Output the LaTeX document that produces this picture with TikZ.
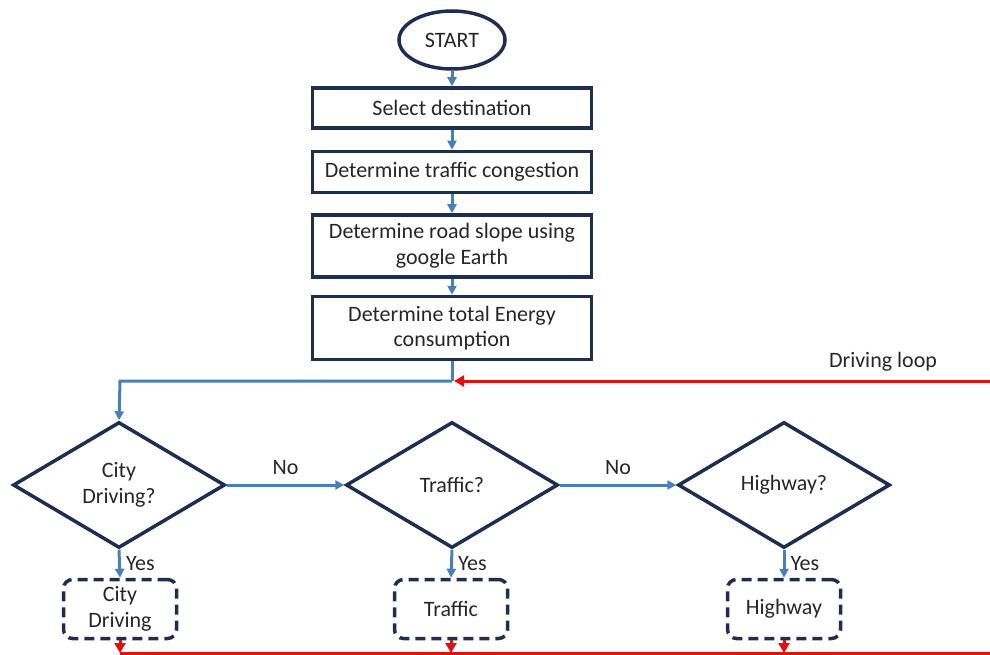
\documentclass[tikz,border=0pt]{standalone}
\usepackage{fontspec}
\setmainfont{Carlito}
\usetikzlibrary{shapes.geometric,arrows.meta}
\definecolor{navy}{HTML}{1F2E4E}
\definecolor{flowblue}{HTML}{4A7EBB}
\definecolor{loopred}{HTML}{E01010}
\tikzset{
  txt/.style={font=\fontsize{22}{25.5}\selectfont, text=black!85},
  procbox/.style={txt, draw=navy, line width=3.5pt, rectangle, minimum width=279pt,
    align=center, inner sep=2pt},
  startshape/.style={txt, draw=navy, line width=3.5pt, ellipse, minimum width=106pt, minimum height=58pt, inner sep=0pt},
  decision/.style={txt, draw=navy, line width=3.5pt, diamond, minimum width=212pt,
    minimum height=126pt, aspect=1.68, inner sep=0pt, align=center},
  modebox/.style={txt, draw=navy, line width=3.5pt, dash pattern=on 10pt off 6pt,
    rounded corners=9pt, minimum width=113pt, minimum height=59pt, align=center, inner sep=1pt},
  flow/.style={flowblue, line width=3pt, -{Triangle[length=9pt,width=9pt]}},
  flowline/.style={flowblue, line width=3pt},
  loop/.style={loopred, line width=3pt},
  looparrow/.style={loopred, line width=3pt, -{Triangle[length=10pt,width=11pt]}},
  lbl/.style={txt, inner sep=1pt}
}
\begin{document}
\begin{tikzpicture}[x=1pt,y=-1pt]
\useasboundingbox (0,0) rectangle (990,655);

% main sequence
\node[startshape] (start) at (452,40) {START};
\node[procbox, minimum height=40pt] (dest) at (452,108) {Select destination};
\node[procbox, minimum height=41pt] (cong) at (452,172) {Determine traffic congestion};
\node[procbox, minimum height=62pt] (slope) at (452,246) {Determine road slope using\\google Earth};
\node[procbox, minimum height=63pt] (energy) at (452,328) {Determine total Energy\\consumption};

\draw[flow] (start) -- (dest);
\draw[flow] (dest) -- (cong);
\draw[flow] (cong) -- (slope);
\draw[flow] (slope) -- (energy);

% decisions
\node[decision] (city) at (119,485) {City\\Driving?};
\node[decision] (traf) at (452,485) {Traffic?};
\node[decision] (high) at (784,485) {Highway?};

% driving modes
\node[modebox] (citybox) at (120,609) {City\\Driving};
\node[modebox] (trafbox) at (451,609) {Traffic};
\node[modebox] (highbox) at (784,609) {Highway};

% branch from energy estimate into the first decision
\coordinate (join) at (452,381);
\coordinate (corner) at (120,381);
\draw[flowline] (energy.south) -- (join);
\draw[flow] (join) -- (corner) -- (city.north);

\draw[flow] (city.east) -- node[lbl, above=8pt] {No} (traf.west);
\draw[flow] (traf.east) -- node[lbl, above=8pt] {No} (high.west);

\draw[flow] (city.south) -- node[lbl, right=4pt] {Yes} (citybox.north);
\draw[flow] (traf.south) -- node[lbl, right=4pt] {Yes} (trafbox.north);
\draw[flow] (high.south) -- node[lbl, right=4pt] {Yes} (highbox.north);

% driving loop back to the decisions
\coordinate (loopin) at (990,381);
\coordinate (loopout) at (990,653);
\coordinate (cityret) at (120,653);
\coordinate (trafret) at (451,653);
\coordinate (highret) at (784,653);
\draw[loop] (cityret) -- (loopout);
\draw[looparrow] (citybox.south) -- (cityret);
\draw[looparrow] (trafbox.south) -- (trafret);
\draw[looparrow] (highbox.south) -- (highret);
\draw[looparrow] (loopin) -- ([xshift=2pt]join);
\node[lbl] (looplbl) at (883,362) {Driving loop};
\end{tikzpicture}
\end{document}
